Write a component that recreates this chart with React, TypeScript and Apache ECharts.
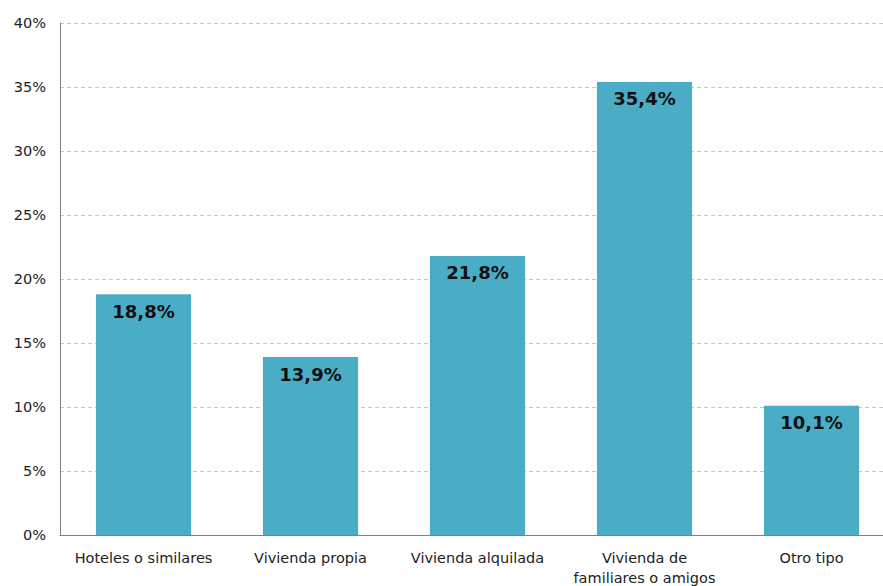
import React, { useEffect, useRef } from "react";
import * as echarts from "echarts";

const categories = [
  "Hoteles o similares",
  "Vivienda propia",
  "Vivienda alquilada",
  "Vivienda de\nfamiliares o amigos",
  "Otro tipo",
];
const values = [18.8, 13.9, 21.8, 35.4, 10.1];

export default function App() {
  const ref = useRef<HTMLDivElement>(null);
  useEffect(() => {
    if (!ref.current) return;
    const chart = echarts.init(ref.current, undefined, { renderer: "svg" });
    chart.setOption({
      animation: false,
      grid: {
        left: 60,
        right: 5,
        top: 23,
        bottom: 51,
        containLabel: false,
        outerBoundsMode: "none",
      },
      xAxis: {
        type: "category",
        data: categories,
        axisLine: { lineStyle: { color: "#808080", width: 1 } },
        axisTick: { show: false },
        axisLabel: {
          color: "#222",
          fontFamily: "DejaVu Sans",
          fontSize: 14.5,
          margin: 13,
          lineHeight: 20,
          interval: 0,
        },
      },
      yAxis: {
        type: "value",
        min: 0,
        max: 40,
        interval: 5,
        axisLine: { show: true, lineStyle: { color: "#808080", width: 1 } },
        axisTick: { show: false },
        axisLabel: {
          color: "#222",
          fontFamily: "DejaVu Sans",
          fontSize: 14.5,
          margin: 14,
          formatter: (v: number) => v + "%",
        },
        splitLine: { lineStyle: { color: "#c8c8c8", type: [4, 3], width: 1 } },
      },
      series: [
        {
          type: "bar",
          data: values,
          barWidth: "57%",
          itemStyle: { color: "#4BACC6" },
          label: {
            show: true,
            position: "insideTop",
            distance: 8,
            color: "#111",
            fontFamily: "DejaVu Sans",
            fontWeight: "bold",
            fontSize: 18,
            formatter: (p: any) => p.value.toFixed(1).replace(".", ",") + "%",
          },
        },
      ],
    });
    return () => chart.dispose();
  }, []);
  return (
    <div
      style={{
        position: "fixed",
        left: 0,
        top: 0,
        width: 883,
        height: 586,
        overflow: "hidden",
        background: "#fff",
      }}
    >
      <div ref={ref} style={{ width: 900, height: 586 }} />
    </div>
  );
}
